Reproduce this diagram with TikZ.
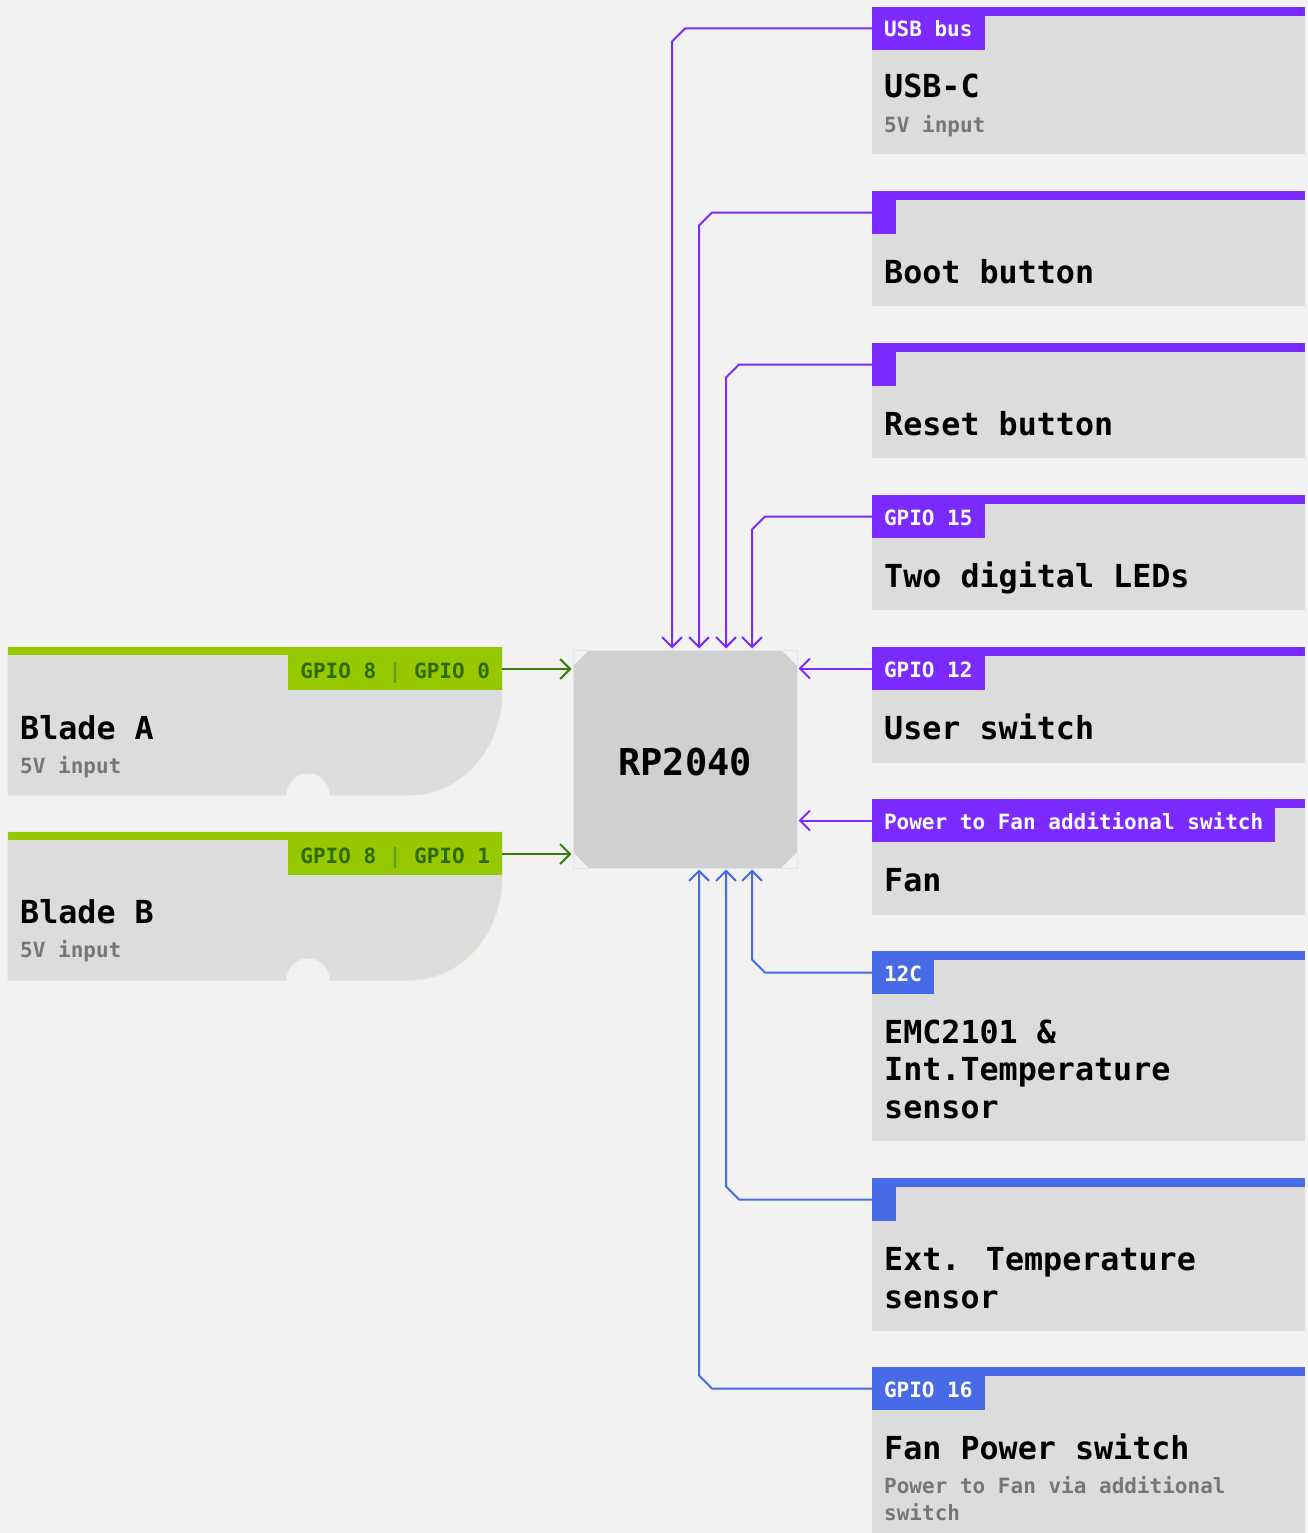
\documentclass[tikz,border=0pt]{standalone}
\usepackage{fontspec}
\usetikzlibrary{arrows.meta}
\newfontfamily\dmono{DejaVu Sans Mono}
\definecolor{bg}{HTML}{F2F2F2}
\definecolor{boxgray}{HTML}{DCDCDC}
\definecolor{chipgray}{HTML}{D0D0D0}
\definecolor{chipline}{HTML}{E4E4E4}
\definecolor{purp}{HTML}{7B2BFF}
\definecolor{bluec}{HTML}{476BE6}
\definecolor{lime}{HTML}{96C800}
\definecolor{dgreen}{HTML}{2E6A00}
\definecolor{sepgreen}{HTML}{5E9C12}
\definecolor{agreen}{HTML}{3A7D0A}
\definecolor{subgray}{HTML}{767676}
\definecolor{bladeline}{HTML}{E0E5CC}
\newcommand{\titlef}{\dmono\bfseries\fontsize{31.7}{37.5}\selectfont}
\newcommand{\subf}{\dmono\bfseries\fontsize{21}{27}\selectfont}
\newcommand{\tagf}{\dmono\bfseries\fontsize{21}{27}\selectfont}
\newcommand{\chipf}{\dmono\bfseries\fontsize{37}{44}\selectfont}
\newcommand{\sidebox}[5]{%
  \node[body, minimum height={#3-#2}] (#1) at (872,#2) {};
  \fill[#4] (872,#2) rectangle (1305,#2+9);
  \node[tagbox, fill=#4] (#1tag) at (872,#2) {#5};
}
\newcommand{\bladebox}[3]{%
  \fill[boxgray, draw=bladeline, line width=1pt] (8,#2) -- (502,#2) -- (502,#2+45)
    arc[start angle=0, end angle=90, x radius=92, y radius=103]
    -- (330,#2+148) arc[start angle=0, end angle=-180, radius=22]
    -- (8,#2+148) -- cycle;
  \fill[lime] (8,#2) rectangle (502,#2+8);
  \node[bladetag] (#1tag) at (502,#2+8) {#3};
}
\begin{document}
\begin{tikzpicture}[x=1pt, y=-1pt,
  body/.style={rectangle, fill=boxgray, minimum width=433pt, anchor=north west, inner sep=0pt, outer sep=0pt},
  tagbox/.style={rectangle, anchor=north west, inner xsep=12pt, inner ysep=0pt, text height=30pt, text depth=13pt, minimum width=22pt, font=\tagf, text=white, outer sep=0pt},
  bladetag/.style={rectangle, fill=lime, anchor=north east, inner xsep=12pt, inner ysep=0pt, text height=23pt, text depth=12pt, font=\tagf, text=dgreen, outer sep=0pt},
  titletext/.style={anchor=base west, inner sep=0pt, font=\titlef, align=left, text=black},
  subtext/.style={anchor=base west, inner sep=0pt, font=\subf, align=left, text=subgray},
  con/.style={line width=2pt, -{Straight Barb[length=10pt, width=20pt]}, shorten >=1.5pt},
  pcon/.style={con, draw=purp},
  bcon/.style={con, draw=bluec},
  gcon/.style={con, draw=agreen}]
\useasboundingbox (0,0) rectangle (1308,1533);
\fill[bg] (0,0) rectangle (1308,1533);

% chip
\node[rectangle, draw=chipline, line width=1pt, minimum width=224pt, minimum height=218pt, inner sep=0pt, outer sep=0pt, font=\chipf,
  path picture={\fill[chipgray] ([xshift=16pt]path picture bounding box.north west) -- ([xshift=-16pt]path picture bounding box.north east)
   -- ([yshift=-16pt]path picture bounding box.north east) -- ([yshift=16pt]path picture bounding box.south east)
   -- ([xshift=-16pt]path picture bounding box.south east) -- ([xshift=16pt]path picture bounding box.south west)
   -- ([yshift=16pt]path picture bounding box.south west) -- ([yshift=-16pt]path picture bounding box.north west) -- cycle;
   \node[font=\chipf, inner sep=0pt] (rptext) at ([yshift=-3pt]path picture bounding box.center) {RP2040};}]
  (rp) at (685,759) {};

% right boxes
\sidebox{usb}{7}{154}{purp}{USB bus}
\sidebox{boot}{191}{306}{purp}{}
\sidebox{reset}{343}{458}{purp}{}
\sidebox{leds}{495}{610}{purp}{GPIO 15}
\sidebox{user}{647}{763}{purp}{GPIO 12}
\sidebox{fan}{799}{915}{purp}{Power to Fan additional switch}
\sidebox{emc}{951}{1141}{bluec}{12C}
\sidebox{ext}{1178}{1331}{bluec}{}
\sidebox{fpow}{1367}{1533}{bluec}{GPIO 16}

\node[titletext] (usbtitle) at (884,98) {USB-C};
\node[subtext] (usbsub) at (884,133) {5V input};
\node[titletext] (boottitle) at (884,283) {Boot button};
\node[titletext] (resettitle) at (884,435) {Reset button};
\node[titletext] (ledstitle) at (884,587) {Two digital LEDs};
\node[titletext] (usertitle) at (884,739) {User switch};
\node[titletext] (fantitle) at (884,891) {Fan};
\node[titletext] (emctitle) at (884,1118) {EMC2101 \&\\Int.Temperature\\sensor};
\node[titletext] (exttitle) at (884,1308) {Ext. Temperature\\sensor};
\node[titletext] (fpowtitle) at (884,1459) {Fan Power switch};
\node[subtext] (fpowsub) at (884,1520) {Power to Fan via additional\\switch};

% blades
\bladebox{bladeA}{647}{GPIO 8 \textcolor{sepgreen}{|} GPIO 0}
\bladebox{bladeB}{832}{GPIO 8 \textcolor{sepgreen}{|} GPIO 1}
\node[titletext] (bladeAtitle) at (20,739) {Blade A};
\node[subtext] (bladeAsub) at (20,773) {5V input};
\node[titletext] (bladeBtitle) at (20,923) {Blade B};
\node[subtext] (bladeBsub) at (20,957) {5V input};

% connectors
\coordinate (bladeAout) at ([yshift=3.5pt]bladeAtag.east);
\coordinate (bladeBout) at ([yshift=3.5pt]bladeBtag.east);
\draw[gcon] (bladeAout) -- (bladeAout -| rp.west);
\draw[gcon] (bladeBout) -- (bladeBout -| rp.west);

\draw[pcon] (usbtag.west) -- ++(-187,0) -- ++(-13,13) -- (672,0 |- rp.north);
\draw[pcon] (boottag.west) -- ++(-160,0) -- ++(-13,13) -- (699,0 |- rp.north);
\draw[pcon] (resettag.west) -- ++(-133,0) -- ++(-13,13) -- (726,0 |- rp.north);
\draw[pcon] (ledstag.west) -- ++(-107,0) -- ++(-13,13) -- (752,0 |- rp.north);
\draw[pcon] (usertag.west) -- (usertag.west -| rp.east);
\draw[pcon] (fantag.west) -- (fantag.west -| rp.east);

\draw[bcon] (emctag.west) -- ++(-107,0) -- ++(-13,-13) -- (752,0 |- rp.south);
\draw[bcon] (exttag.west) -- ++(-133,0) -- ++(-13,-13) -- (726,0 |- rp.south);
\draw[bcon] (fpowtag.west) -- ++(-160,0) -- ++(-13,-13) -- (699,0 |- rp.south);
\end{tikzpicture}
\end{document}
